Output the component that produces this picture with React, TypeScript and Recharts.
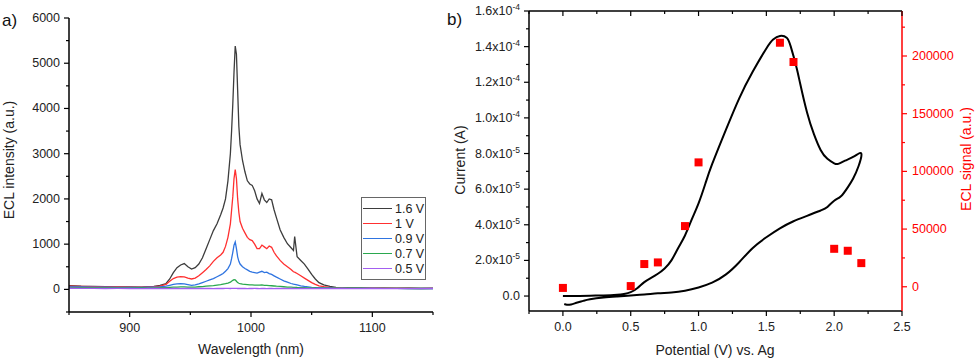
import React from "react";
import {
  ComposedChart,
  LineChart,
  Line,
  Scatter,
  XAxis,
  YAxis,
  Legend,
} from "recharts";

const FONT = "'Liberation Sans', Arial, sans-serif";

// panel a: ECL spectra
const wavelengths = [
  850, 860, 870, 880, 890, 900, 910, 915, 920, 925,
  930, 933, 936, 939, 942, 945, 948, 951, 954, 957,
  960, 963, 966, 969, 972, 975, 977, 979, 981, 983,
  984, 985, 986, 987, 988, 989, 990, 991, 993, 995,
  997, 999, 1001, 1003, 1005, 1007, 1009, 1011, 1013, 1015,
  1017, 1019, 1021, 1024, 1027, 1030, 1033, 1035, 1036, 1038,
  1041, 1044, 1047, 1050, 1053, 1056, 1060, 1065, 1070, 1075,
  1080, 1090, 1100, 1110, 1120, 1130, 1140, 1150,
];

const ecl16 = [
  85, 70, 65, 60, 55, 55, 50, 60, 65, 90,
  130, 230, 370, 480, 540, 570, 500, 450, 480, 560,
  700, 900, 1100, 1300, 1450, 1650, 1800, 2000, 2400, 3000,
  3500, 4100, 4800, 5380, 5200, 4400, 3600, 3200, 2850, 2600,
  2400, 2330, 2300, 2180, 2000, 1900, 2120, 1980, 1920, 2000,
  1980, 1760, 1580, 1320, 1150, 1010, 920, 860, 1170, 720,
  640, 560, 450, 330, 230, 150, 100, 66, 45, 40,
  35, 30, 28, 25, 22, 25, 20, 22,
];

const ecl10 = [
  70, 65, 60, 55, 55, 50, 50, 55, 60, 70,
  110, 180, 240, 270, 280, 275, 250, 230, 250, 300,
  370, 440, 520, 620, 700, 760, 820, 950, 1150, 1450,
  1750, 2050, 2450, 2650, 2450, 2000, 1700, 1500, 1350, 1250,
  1150, 1100, 1080, 1000, 900, 900, 980, 940, 900, 960,
  930, 820, 740, 640, 560, 500, 440, 390, 380, 350,
  300, 250, 200, 150, 110, 80, 60, 45, 40, 38,
  35, 32, 30, 28, 26, 25, 24, 25,
];

const ecl09 = [
  55, 55, 50, 50, 45, 45, 45, 48, 50, 55,
  70, 90, 110, 120, 125, 120, 105, 90, 100, 120,
  150, 180, 210, 240, 280, 320, 350, 400, 460, 560,
  680, 820, 980, 1050, 900, 720, 620, 560, 500, 460,
  430, 400, 380, 370, 360, 380, 400, 370, 380, 350,
  330, 300, 270, 230, 190, 160, 130, 115, 110, 100,
  80, 65, 55, 45, 40, 38, 35, 32, 30, 28,
  26, 25, 24, 22, 22, 20, 20, 20,
];

const ecl07 = [
  40, 40, 38, 38, 35, 35, 35, 35, 35, 38,
  40, 45, 50, 52, 55, 55, 52, 50, 52, 58,
  62, 70, 78, 85, 95, 105, 115, 125, 140, 160,
  180, 200, 215, 210, 180, 150, 135, 125, 115, 110,
  105, 100, 100, 95, 92, 95, 98, 90, 88, 85,
  80, 75, 70, 65, 58, 52, 48, 45, 45, 42,
  40, 38, 35, 33, 32, 30, 30, 28, 28, 27,
  26, 25, 24, 22, 22, 20, 20, 20,
];

const ecl05 = [
  25, 22, 24, 20, 22, 20, 18, 20, 22, 20,
  21, 19, 22, 20, 18, 21, 20, 22, 19, 20,
  21, 20, 22, 19, 20, 21, 20, 22, 21, 20,
  22, 21, 23, 22, 21, 20, 21, 20, 22, 20,
  19, 21, 20, 22, 20, 19, 21, 20, 18, 20,
  21, 19, 20, 22, 20, 19, 21, 20, 20, 18,
  20, 21, 19, 20, 18, 20, 19, 21, 18, 20,
  19, 18, 20, 19, 17, 19, 18, 20,
];

const spectraSeries = [
  { key: "s16", name: "1.6 V", color: "#3d3d3d", values: ecl16 },
  { key: "s10", name: "1 V", color: "#ff3030", values: ecl10 },
  { key: "s09", name: "0.9 V", color: "#2f74e0", values: ecl09 },
  { key: "s07", name: "0.7 V", color: "#2aa84e", values: ecl07 },
  { key: "s05", name: "0.5 V", color: "#a35ff0", values: ecl05 },
];

// panel b: cyclic voltammogram (current) and ECL signal
const cvPotential = [
  0.0, 0.1, 0.2, 0.3, 0.4, 0.45, 0.5, 0.55, 0.6, 0.65,
  0.7, 0.75, 0.8, 0.85, 0.9, 0.95, 1.0, 1.05, 1.1, 1.2,
  1.3, 1.4, 1.5, 1.55, 1.6, 1.65, 1.68, 1.72, 1.75, 1.8,
  1.85, 1.9, 1.95, 2.0, 2.03, 2.08, 2.15, 2.2,
  2.18, 2.14, 2.1, 2.05, 2.0, 1.95, 1.9, 1.8, 1.7, 1.6,
  1.5, 1.4, 1.3, 1.2, 1.1, 1.0, 0.9, 0.8, 0.7, 0.6,
  0.5, 0.4, 0.3, 0.2, 0.15, 0.1, 0.06, 0.03, 0.01,
];

const cvCurrent = [
  0.0, 0.0, 0.02e-5, 0.03e-5, 0.07e-5, 0.12e-5, 0.22e-5, 0.45e-5, 0.78e-5, 1.02e-5,
  1.25e-5, 1.55e-5, 2.0e-5, 2.7e-5, 3.4e-5, 4.3e-5, 5.2e-5, 6.3e-5, 7.4e-5, 9.3e-5,
  11.1e-5, 12.6e-5, 13.9e-5, 14.4e-5, 14.6e-5, 14.5e-5, 14.0e-5, 12.9e-5, 11.9e-5, 10.3e-5,
  9.1e-5, 8.2e-5, 7.7e-5, 7.45e-5, 7.42e-5, 7.6e-5, 7.85e-5, 8.0e-5,
  7.3e-5, 6.6e-5, 6.1e-5, 5.6e-5, 5.35e-5, 5.0e-5, 4.8e-5, 4.5e-5, 4.2e-5, 3.8e-5,
  3.3e-5, 2.7e-5, 1.9e-5, 1.2e-5, 0.75e-5, 0.48e-5, 0.3e-5, 0.2e-5, 0.15e-5, 0.08e-5,
  0.03e-5, -0.02e-5, -0.08e-5, -0.18e-5, -0.27e-5, -0.38e-5, -0.47e-5, -0.49e-5, -0.45e-5,
];

const eclPotential = [0.0, 0.5, 0.6, 0.7, 0.9, 1.0, 1.6, 1.7, 2.0, 2.1, 2.2];
const eclSignal = [-1000, 600, 19700, 21100, 52600, 107800, 211500, 194800, 32900, 31200, 20500];

const spectraData = wavelengths.map((w, i) => {
  const row: Record<string, number> = { w };
  spectraSeries.forEach((s) => (row[s.key] = s.values[i]));
  return row;
});
const cvData = cvPotential.map((v, i) => ({ v, i: cvCurrent[i] }));
const eclData = eclPotential.map((v, i) => ({ v, ecl: eclSignal[i] }));

const TICK = 5;
const MARGIN = 2;
const OFF = TICK + MARGIN;

function bottomTick(isMajor: (v: number) => boolean, fmt: (v: number) => string) {
  return (p: any) => {
    const ay = p.y - OFF;
    const major = isMajor(p.payload.value);
    return (
      <g>
        <line x1={p.x} x2={p.x} y1={ay} y2={ay + (major ? 5 : 3)} stroke="#000" strokeWidth={1.2} />
        {major && (
          <text x={p.x} y={ay + 20} textAnchor="middle" fontSize={12.5} fill="#222" fontFamily={FONT}>
            {fmt(p.payload.value)}
          </text>
        )}
      </g>
    );
  };
}

// ticks pointing down from a top axis line, no labels
function topTick(isMajor: (v: number) => boolean) {
  return (p: any) => {
    const ay = p.y + OFF;
    const major = isMajor(p.payload.value);
    return <line x1={p.x} x2={p.x} y1={ay} y2={ay + (major ? 5 : 3)} stroke="#000" strokeWidth={1.2} />;
  };
}

function leftTick(isMajor: (v: number) => boolean, render: (v: number) => React.ReactNode) {
  return (p: any) => {
    const ax = p.x + OFF;
    const major = isMajor(p.payload.value);
    return (
      <g>
        <line x1={ax} x2={ax - (major ? 5 : 3)} y1={p.y} y2={p.y} stroke="#000" strokeWidth={1.2} />
        {major && (
          <text x={ax - 9} y={p.y + 4} textAnchor="end" fontSize={12.5} fill="#222" fontFamily={FONT}>
            {render(p.payload.value)}
          </text>
        )}
      </g>
    );
  };
}

function rightTick(isMajor: (v: number) => boolean) {
  return (p: any) => {
    const ax = p.x - OFF;
    const major = isMajor(p.payload.value);
    return (
      <g>
        <line x1={ax} x2={ax + (major ? 5 : 3)} y1={p.y} y2={p.y} stroke="#ff0000" strokeWidth={1.2} />
        {major && (
          <text x={ax + 10} y={p.y + 4} textAnchor="start" fontSize={12.5} fill="#ff0000" fontFamily={FONT}>
            {p.payload.value}
          </text>
        )}
      </g>
    );
  };
}

const sciLabel = (v: number) => {
  if (v === 0) return "0.0";
  const [m, e] = v.toExponential(1).split("e");
  return (
    <>
      {m}x10
      <tspan dy={-5} fontSize={8.5}>
        {e}
      </tspan>
    </>
  );
};

function SpectraLegend() {
  return (
    <div
      style={{
        border: "1px solid #666",
        background: "#fff",
        width: 63,
        padding: "3px 0",
        fontFamily: FONT,
        fontSize: 12.5,
        color: "#222",
        boxSizing: "content-box",
      }}
    >
      {spectraSeries.map((s) => (
        <div key={s.key} style={{ display: "flex", alignItems: "center", height: 15 }}>
          <span style={{ width: 29, borderTop: `1.5px solid ${s.color}`, marginLeft: 1, marginRight: 3 }} />
          <span>{s.name}</span>
        </div>
      ))}
    </div>
  );
}

const aXTicks = [850, 900, 950, 1000, 1050, 1100, 1150];
const aYTicks = [-500, 0, 500, 1000, 1500, 2000, 2500, 3000, 3500, 4000, 4500, 5000, 5500, 6000];
const bXTicks = [-0.25, 0, 0.25, 0.5, 0.75, 1, 1.25, 1.5, 1.75, 2, 2.25, 2.5];
const bLTicks = [0, 1e-5, 2e-5, 3e-5, 4e-5, 5e-5, 6e-5, 7e-5, 8e-5, 9e-5, 10e-5, 11e-5, 12e-5, 13e-5, 14e-5, 15e-5, 16e-5];
const bRTicks = [0, 25000, 50000, 75000, 100000, 125000, 150000, 175000, 200000, 225000];

const halfStep = (v: number) => Math.abs(v * 2 - Math.round(v * 2)) < 1e-9;

export default function App() {
  return (
    <div
      style={{
        position: "absolute",
        left: 0,
        top: 0,
        width: 979,
        height: 362,
        background: "#fff",
        overflow: "hidden",
        fontFamily: FONT,
      }}
    >
      <div style={{ position: "absolute", left: 0, top: 0 }}>
        <LineChart width={450} height={362} data={spectraData} margin={{ top: 18, right: 17, bottom: 0, left: 0 }}>
          <XAxis
            dataKey="w"
            type="number"
            domain={[850, 1150]}
            ticks={aXTicks}
            interval={0}
            height={50}
            tickSize={TICK}
            tickMargin={MARGIN}
            tickLine={false}
            stroke="#000"
            strokeWidth={1.5}
            allowDataOverflow
            tick={bottomTick((v) => v % 100 === 0, (v) => String(v))}
          />
          <YAxis
            type="number"
            domain={[-500, 6000]}
            ticks={aYTicks}
            interval={0}
            width={69}
            tickSize={TICK}
            tickMargin={MARGIN}
            tickLine={false}
            stroke="#000"
            strokeWidth={1.5}
            allowDataOverflow
            tick={leftTick((v) => v % 1000 === 0, (v) => String(v))}
          />
          <Legend
            layout="vertical"
            align="center"
            verticalAlign="middle"
            content={<SpectraLegend />}
            wrapperStyle={{ position: "absolute", left: 361, top: 197, width: 65, height: 83 }}
          />
          {spectraSeries.map((s) => (
            <Line
              key={s.key}
              dataKey={s.key}
              name={s.name}
              stroke={s.color}
              strokeWidth={1.3}
              dot={false}
              type="linear"
              isAnimationActive={false}
            />
          ))}
        </LineChart>
      </div>

      <div style={{ position: "absolute", left: 460, top: 0 }}>
        <ComposedChart width={519} height={362} margin={{ top: 0, right: 0, bottom: 0, left: 0 }}>
          <XAxis
            dataKey="v"
            type="number"
            domain={[-0.25, 2.5]}
            ticks={bXTicks}
            interval={0}
            height={51}
            tickSize={TICK}
            tickMargin={MARGIN}
            tickLine={false}
            stroke="#000"
            strokeWidth={1.5}
            allowDataOverflow
            tick={bottomTick(halfStep, (v) => v.toFixed(1))}
          />
          <XAxis
            xAxisId="top"
            orientation="top"
            dataKey="v"
            type="number"
            domain={[-0.25, 2.5]}
            ticks={bXTicks}
            interval={0}
            height={11}
            tickSize={TICK}
            tickMargin={MARGIN}
            tickLine={false}
            stroke="#000"
            strokeWidth={1.5}
            allowDataOverflow
            tick={topTick(halfStep)}
          />
          <YAxis
            yAxisId="l"
            type="number"
            domain={[-0.84e-5, 16e-5]}
            ticks={bLTicks}
            interval={0}
            width={69}
            tickSize={TICK}
            tickMargin={MARGIN}
            tickLine={false}
            stroke="#000"
            strokeWidth={1.5}
            allowDataOverflow
            tick={leftTick((v) => Math.round(v * 1e5) % 2 === 0, sciLabel)}
          />
          <YAxis
            yAxisId="r"
            orientation="right"
            type="number"
            domain={[-21000, 239000]}
            ticks={bRTicks}
            interval={0}
            width={77}
            tickSize={TICK}
            tickMargin={MARGIN}
            tickLine={false}
            stroke="#ff0000"
            strokeWidth={1.5}
            allowDataOverflow
            tick={rightTick((v) => v % 50000 === 0)}
          />
          <Line
            yAxisId="l"
            data={cvData}
            dataKey="i"
            type="natural"
            stroke="#000"
            strokeWidth={2}
            dot={false}
            isAnimationActive={false}
          />
          <Scatter
            yAxisId="r"
            data={eclData}
            dataKey="ecl"
            fill="#ff0000"
            isAnimationActive={false}
            shape={(p: any) => <rect x={p.cx - 4} y={p.cy - 4} width={8} height={8} fill="#ff0000" />}
          />
        </ComposedChart>
      </div>

      <svg
        width={979}
        height={362}
        style={{ position: "absolute", left: 0, top: 0, pointerEvents: "none" }}
        fontFamily={FONT}
      >
        <text x={2} y={26} fontSize={17} fill="#111">a)</text>
        <text x={447} y={25} fontSize={17} fill="#111">b)</text>
        <text x={14} y={160} fontSize={14} fill="#222" textAnchor="middle" transform="rotate(-90 14 160)">
          ECL intensity (a.u.)
        </text>
        <text x={251} y={354} fontSize={14} fill="#222" textAnchor="middle">
          Wavelength (nm)
        </text>
        <text x={465} y={160} fontSize={14} fill="#222" textAnchor="middle" transform="rotate(-90 465 160)">
          Current (A)
        </text>
        <text x={971} y={159} fontSize={14} fill="#ff0000" textAnchor="middle" transform="rotate(-90 971 159)">
          ECL signal (a.u.)
        </text>
        <text x={715} y={355} fontSize={14} fill="#222" textAnchor="middle">
          Potential (V) vs. Ag
        </text>
      </svg>
    </div>
  );
}
